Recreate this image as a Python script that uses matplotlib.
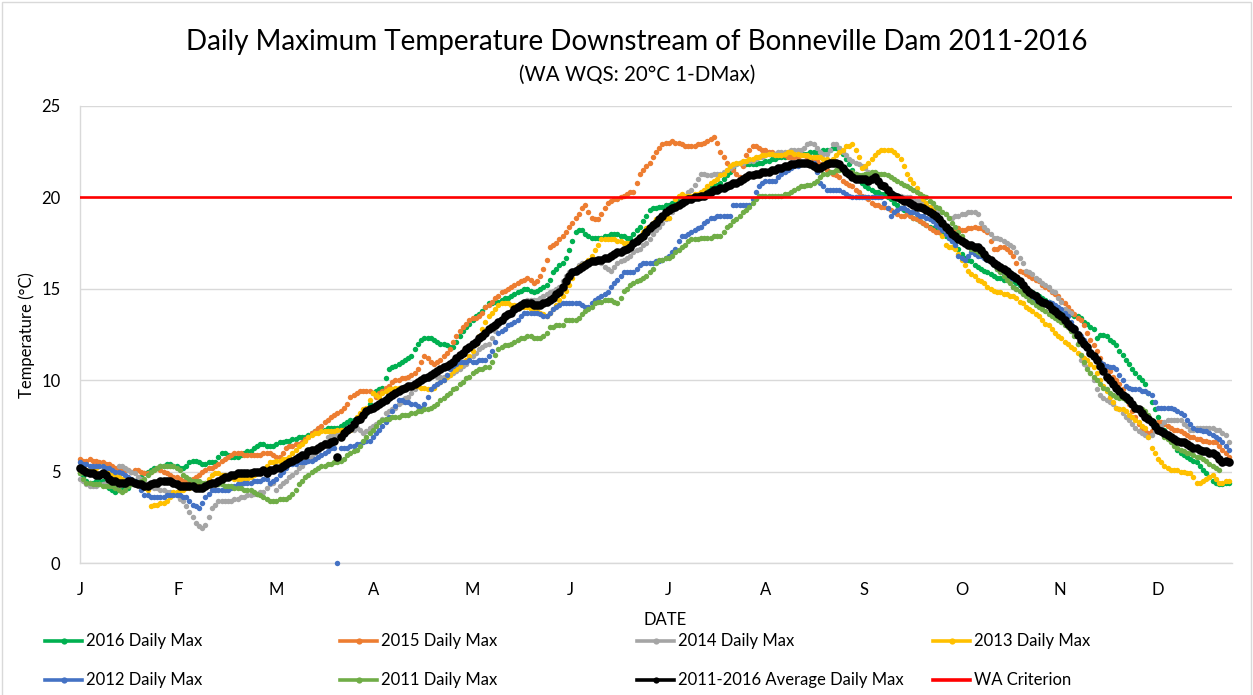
import numpy as np
import matplotlib
matplotlib.use("Agg")
import matplotlib.pyplot as plt
from matplotlib.lines import Line2D
from matplotlib.patches import Rectangle

# ---------------- data (daily maxima, deg C, day index from 1 Jan) ----------------
months = ["J", "F", "M", "A", "M", "J", "J", "A", "S", "O", "N", "D"]

t2016 = [
    4.9, 4.7, 4.5, 4.4, 4.4, 4.5, 4.5, 4.5, 4.3, 4.1, 4.0, 3.9, 4.0, 4.0, 4.1, 4.1, 4.3, 4.5, 4.6, 4.7, 4.9, 5.0, 5.1, 5.2, 5.2, 5.3, 5.3, 5.4, 5.4, 5.3,
    5.3, 5.2, 5.2, 5.3, 5.5, 5.6, 5.6, 5.5, 5.4, 5.4, 5.5, 5.5, 5.5, 5.8, 6.0, 6.0, 5.9, 5.8, 5.8, 5.8, 5.9, 6.0, 6.1, 6.1, 6.3, 6.4, 6.5, 6.5, 6.4, 6.4,
    6.4, 6.5, 6.6, 6.6, 6.7, 6.7, 6.8, 6.8, 6.9, 6.9, 6.9, 7.0, 7.1, 7.2, 7.3, 7.3, 7.3, 7.4, 7.4, 7.4, 7.4, 7.5, 7.6, 7.7, 7.8, 7.8, 7.9, 8.0, 8.1, 8.2,
    8.7, 9.3, 9.4, 9.5, 9.6, 10.1, 10.6, 10.7, 10.8, 10.9, 11.0, 11.1, 11.2, 11.3, 11.7, 12.0, 12.2, 12.3, 12.3, 12.3, 12.2, 12.1, 12.0, 12.0, 11.9, 11.8, 11.8, 12.1, 12.4, 12.7,
    12.9, 13.1, 13.3, 13.5, 13.6, 13.8, 14.0, 14.2, 14.2, 14.3, 14.3, 14.4, 14.5, 14.5, 14.6, 14.7, 14.8, 14.9, 15.0, 15.0, 14.9, 14.8, 14.9, 15.0, 15.1, 15.2, 15.5, 15.9, 16.1, 16.3,
    16.4, 16.7, 17.1, 17.6, 18.1, 18.2, 18.2, 18.0, 17.9, 17.8, 17.8, 17.8, 17.8, 17.9, 17.9, 18.0, 18.0, 18.0, 17.9, 17.9, 17.8, 17.8, 18.0, 18.2, 18.4, 18.7, 19.0, 19.3, 19.4, 19.4,
    19.5, 19.5, 19.6, 19.6, 19.7, 19.7, 19.8, 19.8, 19.9, 19.9, 20.0, 20.0, 20.1, 20.2, 20.3, 20.4, 20.5, 20.6, 20.7, 20.8, 21.0, 21.2, 21.4, 21.6, 21.8, 21.9, 21.9, 21.8, 21.8, 21.8,
    21.8, 21.9, 21.9, 22.0, 22.0, 22.1, 22.1, 22.2, 22.2, 22.2, 22.3, 22.3, 22.3, 22.4, 22.4, 22.4, 22.4, 22.5, 22.5, 22.5, 22.5, 22.6, 22.6, 22.6, 22.7, 22.7, 22.7, 22.4, 22.1, 21.8,
    21.5, 21.3, 21.1, 20.8, 20.6, 20.5, 20.4, 20.3, 20.3, 20.2, 20.2, 20.0, 19.9, 19.7, 19.6, 19.4, 19.3, 19.2, 19.1, 18.9, 18.8, 18.7, 18.6, 18.5, 18.4, 18.3, 18.2, 18.1, 18.0, 17.9,
    17.8, 17.6, 17.4, 17.2, 16.9, 16.7, 16.6, 16.5, 16.3, 16.2, 16.1, 16.0, 15.9, 15.8, 15.7, 15.6, 15.6, 15.5, 15.5, 15.4, 15.4, 15.3, 15.2, 15.1, 15.0, 14.9, 14.8, 14.7, 14.6, 14.5,
    14.4, 14.3, 14.1, 14.0, 13.8, 13.7, 13.7, 13.6, 13.6, 13.5, 13.5, 13.4, 13.2, 13.1, 12.9, 12.8, 12.3, 12.5, 12.5, 12.4, 12.2, 12.1, 11.9, 11.6, 11.4, 11.1, 10.9, 10.6, 10.4, 10.2,
    10.0, 9.8, 9.3, 8.8, 8.4, 8.0, 7.6, 7.3, 7.0, 6.7, 6.5, 6.2, 6.0, 5.9, 5.8, 5.7, 5.6, 5.5, 5.3, 5.1, 4.9, 4.7, 4.5, 4.4, 4.3, 4.3, 4.4, 4.4,
]

t2015 = [
    5.7, 5.6, 5.6, 5.7, 5.6, 5.6, 5.5, 5.5, 5.4, 5.4, 5.3, 5.2, 5.1, 5.1, 5.1, 5.1, 5.0, 5.1, 5.1, 5.0, 4.9, 4.9, 5.0, 5.1, 5.2, 5.1, 5.0, 4.9, 4.8, 4.7,
    4.7, 4.6, 4.5, 4.5, 4.5, 4.6, 4.7, 4.8, 5.0, 5.1, 5.2, 5.2, 5.3, 5.4, 5.6, 5.7, 5.8, 5.9, 6.0, 6.0, 6.0, 5.9, 5.9, 5.9, 5.9, 5.9, 5.9, 6.0, 6.0, 6.0,
    5.9, 5.8, 5.8, 6.0, 6.3, 6.4, 6.4, 6.5, 6.5, 6.6, 6.8, 6.9, 7.1, 7.2, 7.4, 7.5, 7.7, 7.8, 8.0, 8.1, 8.2, 8.3, 8.5, 8.7, 9.1, 9.2, 9.3, 9.4, 9.4, 9.4,
    9.4, 9.3, 9.1, 9.3, 9.4, 9.6, 9.7, 9.9, 10.0, 10.0, 10.1, 10.1, 10.2, 10.3, 10.4, 10.6, 11.0, 11.3, 11.2, 11.0, 10.9, 11.0, 11.1, 11.3, 11.5, 11.7, 12.1, 12.4, 12.7, 12.9,
    13.1, 13.3, 13.4, 13.4, 13.5, 13.7, 14.0, 14.1, 14.3, 14.5, 14.6, 14.8, 14.9, 15.0, 15.1, 15.2, 15.3, 15.4, 15.5, 15.6, 15.5, 15.3, 15.4, 15.7, 16.1, 16.6, 17.3, 17.4, 17.5, 17.7,
    17.9, 18.1, 18.4, 18.6, 18.9, 19.1, 19.4, 19.6, 19.2, 18.9, 18.8, 18.8, 19.1, 19.4, 19.7, 19.8, 19.9, 19.9, 20.0, 20.1, 20.2, 20.3, 20.3, 20.8, 21.3, 21.5, 21.7, 21.9, 22.2, 22.5,
    22.7, 22.9, 23.0, 23.0, 23.1, 23.0, 23.0, 22.9, 22.8, 22.8, 22.8, 22.8, 22.9, 22.9, 23.0, 23.1, 23.2, 23.3, 23.0, 22.5, 22.2, 21.9, 21.7, 21.5, 21.3, 21.1, 21.7, 22.3, 22.6, 22.8,
    22.8, 22.7, 22.6, 22.6, 22.5, 22.5, 22.4, 22.4, 22.3, 22.3, 22.2, 22.2, 22.2, 22.2, 22.3, 22.3, 22.2, 22.2, 22.1, 22.0, 21.8, 21.7, 21.5, 21.4, 21.3, 21.2, 21.1, 20.9, 20.8, 20.7,
    20.6, 20.4, 20.3, 20.1, 20.0, 19.9, 19.7, 19.6, 19.6, 19.5, 19.5, 19.4, 19.3, 19.2, 19.1, 19.0, 19.0, 19.1, 19.0, 18.9, 18.8, 18.7, 18.6, 18.5, 18.3, 18.2, 18.1, 18.1, 18.2, 18.2,
    18.2, 18.2, 18.2, 18.3, 18.2, 18.2, 18.3, 18.3, 18.4, 18.3, 18.3, 18.2, 18.1, 17.6, 17.2, 17.2, 17.3, 17.3, 17.2, 17.0, 16.8, 16.4, 16.0, 15.9, 15.8, 15.7, 15.6, 15.5, 15.4, 15.2,
    15.1, 15.0, 14.8, 14.7, 14.6, 14.4, 14.2, 14.0, 13.8, 13.6, 13.4, 13.3, 13.0, 12.6, 12.2, 11.9, 11.6, 11.2, 10.9, 10.7, 10.5, 10.2, 10.0, 9.8, 9.5, 9.1, 8.7, 8.3, 8.0, 7.6,
    7.4, 7.2, 7.1, 7.2, 7.5, 7.7, 7.7, 7.6, 7.5, 7.4, 7.3, 7.3, 7.2, 7.1, 7.0, 6.9, 6.9, 6.8, 6.8, 6.7, 6.7, 6.6, 6.6, 6.6, 6.4, 6.2, 6.0, 5.8,
]

t2014 = [
    4.6, 4.5, 4.3, 4.2, 4.2, 4.2, 4.3, 4.3, 4.4, 4.5, 4.7, 5.0, 5.3, 5.3, 5.2, 5.1, 5.0, 4.9, 4.7, 4.6, 4.5, 4.3, 4.2, 4.1, 4.1, 4.0, 4.0, 3.9, 3.9, 3.8,
    3.7, 3.5, 3.4, 3.1, 2.8, 2.5, 2.2, 2.0, 1.9, 2.1, 2.5, 3.0, 3.2, 3.4, 3.4, 3.4, 3.4, 3.4, 3.5, 3.5, 3.6, 3.6, 3.7, 3.7, 3.8, 3.8, 3.9, 3.9, 4.1, 4.3,
    4.4, 4.0, 4.2, 4.4, 4.5, 4.7, 4.8, 5.0, 5.2, 5.3, 5.5, 5.7, 5.8, 6.0, 6.1, 6.3, 6.6, 6.9, 7.0, 7.0, 7.0, 7.1, 7.1, 7.2, 7.3, 7.3, 7.4, 7.3, 7.1, 7.2,
    7.4, 7.5, 7.6, 7.7, 7.9, 8.2, 8.3, 8.4, 8.5, 8.7, 8.8, 9.0, 9.1, 9.3, 9.5, 9.7, 10.0, 10.1, 10.2, 10.3, 10.3, 10.2, 10.2, 10.2, 10.3, 10.3, 10.4, 10.5, 10.6, 10.8,
    10.9, 11.1, 11.3, 11.5, 11.7, 11.8, 11.9, 12.0, 12.3, 12.7, 13.0, 13.3, 13.4, 13.6, 13.7, 13.9, 14.0, 14.1, 14.3, 14.4, 14.4, 14.4, 14.4, 14.5, 14.6, 14.7, 14.8, 14.9, 15.0, 15.1,
    15.4, 15.7, 15.9, 16.0, 16.1, 16.3, 16.4, 16.4, 16.5, 16.5, 16.6, 16.6, 16.4, 16.2, 16.1, 16.0, 16.2, 16.4, 16.5, 16.6, 16.7, 16.8, 17.0, 17.1, 17.2, 17.4, 17.5, 17.7, 18.0, 18.2,
    18.4, 18.6, 18.8, 18.9, 19.2, 19.4, 19.7, 19.9, 20.1, 20.3, 20.4, 20.7, 21.0, 21.3, 21.3, 21.2, 21.2, 21.3, 21.3, 21.3, 21.4, 21.5, 21.6, 21.7, 21.8, 21.9, 21.9, 22.0, 22.0, 22.0,
    22.1, 22.2, 22.2, 22.3, 22.4, 22.4, 22.4, 22.5, 22.5, 22.5, 22.5, 22.6, 22.6, 22.6, 22.6, 22.7, 22.9, 23.0, 22.9, 22.7, 22.5, 22.4, 22.4, 22.6, 22.9, 22.9, 22.7, 22.5, 22.3, 22.1,
    22.0, 21.9, 21.8, 21.7, 21.6, 21.4, 21.2, 21.0, 20.8, 20.6, 20.5, 20.3, 20.2, 20.1, 20.1, 20.1, 20.0, 20.0, 20.0, 19.9, 19.8, 19.8, 19.7, 19.6, 19.5, 19.5, 19.4, 19.3, 19.2, 19.1,
    18.9, 18.9, 19.0, 19.0, 19.1, 19.1, 19.2, 19.2, 19.2, 19.1, 18.6, 18.4, 18.2, 18.0, 17.8, 17.8, 17.7, 17.6, 17.5, 17.4, 17.3, 17.0, 16.7, 16.4, 16.0, 15.9, 15.8, 15.6, 15.5, 15.3,
    15.2, 15.1, 14.9, 14.8, 14.5, 14.3, 13.9, 13.8, 13.7, 12.6, 12.0, 11.1, 10.9, 10.7, 10.4, 10.0, 9.5, 9.2, 9.0, 8.9, 8.8, 8.7, 8.5, 8.4, 8.2, 8.0, 7.8, 7.6, 7.4, 7.2,
    7.1, 7.0, 6.9, 7.0, 7.2, 7.4, 7.5, 7.7, 7.8, 7.8, 7.8, 7.8, 7.8, 7.6, 7.5, 7.3, 7.3, 7.4, 7.4, 7.4, 7.4, 7.4, 7.4, 7.3, 7.3, 7.1, 7.0, 6.6,
]

t2013 = [
    5.0, 5.0, 5.1, 5.1, 5.2, 5.2, 5.3, 5.3, 5.2, 5.0, 4.9, 4.8, 4.7, 4.6, 4.5, 4.4, 4.4, 4.3, 4.3, 4.2, 4.1, 4.0, 3.1, 3.2, 3.2, 3.3, 3.3, 3.4, 3.6, 3.9,
    3.9, 4.0, 4.0, 4.1, 4.1, 4.2, 4.3, 4.3, 4.3, 4.4, 4.6, 4.8, 4.9, 4.9, 4.8, 4.8, 4.7, 4.7, 4.6, 4.6, 4.6, 4.6, 4.6, 4.7, 4.8, 4.9, 4.9, 5.1, 5.3, 5.5,
    5.5, 5.6, 5.6, 5.7, 5.7, 5.8, 6.0, 6.2, 6.4, 6.5, 6.7, 6.9, 7.0, 7.1, 7.1, 7.2, 7.2, 7.2, 7.2, 7.2, 7.3, 7.3, 7.3, 7.3, 7.3, 7.6, 8.0, 8.2, 8.4, 8.5,
    8.9, 9.3, 9.2, 9.1, 9.3, 9.4, 9.5, 9.5, 9.6, 9.6, 9.6, 9.6, 9.7, 9.7, 9.7, 9.7, 9.6, 9.6, 9.5, 9.5, 9.6, 9.8, 9.9, 10.0, 10.2, 10.3, 10.5, 10.6, 10.8, 11.0,
    11.1, 11.3, 11.6, 12.0, 12.4, 12.8, 13.2, 13.5, 13.7, 13.9, 14.1, 14.2, 14.2, 14.2, 14.1, 14.1, 14.1, 14.0, 14.0, 14.0, 13.9, 13.9, 13.8, 13.7, 13.6, 13.5, 13.7, 13.9, 14.1, 14.4,
    14.6, 14.9, 15.2, 15.6, 15.9, 16.2, 16.3, 16.4, 16.6, 16.8, 17.1, 17.4, 17.7, 17.7, 17.7, 17.7, 17.7, 17.6, 17.6, 17.5, 17.5, 17.5, 17.5, 17.7, 17.9, 18.1, 18.3, 18.4, 18.6, 18.8,
    18.8, 18.9, 18.9, 18.9, 19.4, 19.9, 20.1, 20.2, 20.1, 20.1, 20.1, 20.2, 20.2, 20.3, 20.4, 20.6, 20.8, 20.9, 21.0, 21.2, 21.3, 21.5, 21.7, 21.8, 21.9, 21.9, 22.0, 22.0, 22.1, 22.1,
    22.2, 22.2, 22.3, 22.3, 22.4, 22.4, 22.3, 22.3, 22.3, 22.4, 22.5, 22.5, 22.4, 22.4, 22.3, 22.3, 22.3, 22.2, 22.2, 22.2, 22.2, 22.1, 22.1, 22.0, 22.1, 22.3, 22.5, 22.6, 22.8, 22.8,
    22.9, 22.6, 22.2, 21.6, 21.7, 21.9, 22.1, 22.3, 22.5, 22.6, 22.6, 22.6, 22.6, 22.5, 22.3, 22.1, 21.7, 21.3, 21.0, 20.8, 20.5, 20.2, 19.9, 19.7, 19.5, 19.3, 18.9, 18.4, 17.9, 17.4,
    17.3, 17.3, 17.2, 16.9, 16.6, 16.3, 16.0, 15.8, 15.7, 15.5, 15.4, 15.3, 15.1, 15.0, 14.9, 14.8, 14.8, 14.7, 14.7, 14.6, 14.6, 14.5, 14.3, 14.2, 14.0, 13.9, 13.8, 13.6, 13.5, 13.3,
    13.1, 13.0, 12.8, 12.6, 12.4, 12.3, 12.1, 12.0, 11.8, 11.7, 11.5, 11.4, 11.2, 11.1, 10.9, 10.7, 10.4, 10.0, 9.7, 9.4, 9.1, 8.8, 8.5, 8.4, 8.4, 8.3, 8.1, 8.0, 7.8, 7.7,
    7.5, 7.4, 6.9, 6.3, 6.0, 5.7, 5.5, 5.3, 5.2, 5.1, 5.1, 5.1, 5.0, 5.0, 4.9, 4.9, 4.7, 4.4, 4.4, 4.5, 4.6, 4.7, 4.8, 4.6, 4.4, 4.4, 4.5, 4.5,
]

t2012 = [
    5.5, 5.4, 5.4, 5.3, 5.3, 5.3, 5.3, 5.3, 5.2, 5.2, 5.1, 5.0, 5.0, 4.9, 4.8, 4.7, 4.6, 4.5, 4.3, 4.0, 3.7, 3.7, 3.6, 3.6, 3.6, 3.6, 3.6, 3.7, 3.7, 3.7,
    3.7, 3.7, 3.6, 3.6, 3.4, 3.2, 3.1, 3.0, 3.3, 3.6, 3.8, 4.0, 4.0, 4.0, 4.0, 4.0, 4.0, 4.1, 4.2, 4.3, 4.3, 4.4, 4.4, 4.4, 4.5, 4.5, 4.5, 4.6, 4.6, 4.4,
    4.5, 4.6, 4.8, 5.0, 5.2, 5.4, 5.4, 5.4, 5.5, 5.5, 5.5, 5.6, 5.6, 5.7, 5.8, 5.9, 6.0, 6.1, 6.3, 6.3, 0.0, 6.3, 6.3, 6.3, 6.4, 6.4, 6.5, 6.5, 6.6, 6.7,
    6.7, 6.9, 7.1, 7.3, 7.5, 7.7, 8.0, 8.3, 8.6, 8.9, 8.9, 8.8, 8.8, 8.7, 8.7, 8.6, 8.5, 8.7, 9.1, 9.5, 9.7, 9.8, 9.9, 10.0, 10.3, 10.6, 10.8, 10.9, 11.0, 11.0,
    11.0, 11.1, 11.0, 11.0, 11.1, 11.1, 11.1, 11.3, 11.6, 12.1, 12.6, 12.7, 12.8, 13.0, 13.1, 13.2, 13.3, 13.5, 13.7, 13.7, 13.7, 13.7, 13.7, 13.6, 13.5, 13.5, 13.7, 13.9, 14.0, 14.1,
    14.2, 14.2, 14.2, 14.2, 14.2, 14.2, 14.1, 14.0, 14.0, 14.2, 14.4, 14.5, 14.6, 14.7, 14.8, 15.1, 15.3, 15.5, 15.7, 15.9, 15.9, 15.9, 15.9, 16.1, 16.3, 16.4, 16.4, 16.4, 16.4, 16.5,
    16.5, 16.6, 16.7, 16.8, 17.0, 17.2, 17.6, 17.9, 17.9, 18.0, 18.1, 18.2, 18.3, 18.4, 18.6, 18.7, 18.9, 18.9, 19.0, 19.0, 19.0, 19.0, 19.0, 19.6, 19.6, 19.6, 19.6, 19.6, 19.6, 19.9,
    20.3, 20.6, 20.8, 20.9, 20.9, 20.9, 20.9, 21.1, 21.3, 21.4, 21.5, 21.6, 21.7, 21.7, 21.8, 21.8, 21.8, 21.9, 21.9, 21.4, 20.8, 20.6, 20.4, 20.4, 20.4, 20.4, 20.4, 20.3, 20.2, 20.1,
    20.0, 20.0, 20.0, 20.0, 20.0, 20.0, 20.0, 20.0, 20.0, 20.0, 19.7, 19.4, 19.0, 19.2, 19.3, 19.4, 19.4, 19.3, 19.2, 19.2, 19.1, 19.0, 19.0, 18.9, 18.8, 18.7, 18.5, 18.4, 18.2, 18.0,
    17.8, 17.6, 17.4, 16.8, 16.7, 16.6, 16.8, 17.0, 16.9, 16.8, 16.8, 16.7, 16.6, 16.5, 16.3, 16.1, 16.0, 15.8, 15.6, 15.4, 15.1, 15.0, 14.9, 14.9, 14.8, 14.7, 14.5, 14.4, 14.4, 14.3,
    14.3, 14.3, 14.2, 14.1, 14.0, 13.9, 13.7, 13.5, 13.2, 12.9, 12.6, 12.4, 12.2, 11.9, 11.6, 11.4, 11.2, 11.0, 10.9, 10.8, 10.7, 10.7, 10.6, 10.3, 10.0, 9.7, 9.6, 9.5, 9.5, 9.5,
    9.4, 9.4, 9.3, 9.2, 8.8, 8.5, 8.5, 8.5, 8.5, 8.5, 8.4, 8.3, 8.2, 8.1, 7.8, 7.6, 7.4, 7.3, 7.3, 7.2, 7.2, 7.1, 7.0, 6.9, 6.8, 6.6, 6.4, 6.2,
]

t2011 = [
    4.9, 4.6, 4.4, 4.4, 4.3, 4.3, 4.3, 4.2, 4.2, 4.2, 4.2, 4.1, 4.0, 3.9, 4.0, 4.2, 4.3, 4.4, 4.4, 4.5, 4.6, 4.8, 5.0, 5.1, 5.2, 5.3, 5.3, 5.3, 5.3, 5.3,
    5.2, 5.1, 4.8, 4.7, 4.6, 4.5, 4.5, 4.5, 4.4, 4.4, 4.4, 4.3, 4.3, 4.3, 4.3, 4.2, 4.2, 4.2, 4.1, 4.1, 4.1, 4.0, 4.0, 4.0, 3.9, 3.8, 3.7, 3.6, 3.5, 3.4,
    3.4, 3.4, 3.5, 3.5, 3.5, 3.6, 3.8, 4.0, 4.3, 4.5, 4.7, 4.8, 5.0, 5.1, 5.2, 5.3, 5.3, 5.4, 5.4, 5.5, 5.5, 5.6, 5.7, 5.9, 6.0, 6.1, 6.2, 6.4, 6.7, 6.9,
    7.1, 7.3, 7.5, 7.7, 7.8, 7.9, 7.9, 8.0, 8.0, 8.0, 8.1, 8.1, 8.1, 8.2, 8.2, 8.3, 8.3, 8.4, 8.4, 8.5, 8.6, 8.7, 8.9, 9.0, 9.2, 9.3, 9.5, 9.6, 9.8, 9.9,
    10.1, 10.2, 10.4, 10.5, 10.6, 10.6, 10.7, 10.7, 11.0, 11.4, 11.7, 11.8, 11.9, 11.9, 12.0, 12.1, 12.2, 12.3, 12.3, 12.4, 12.4, 12.3, 12.3, 12.3, 12.4, 12.6, 12.9, 12.9, 13.0, 13.0,
    13.0, 13.3, 13.3, 13.3, 13.3, 13.4, 13.6, 13.8, 13.9, 14.0, 14.2, 14.3, 14.3, 14.4, 14.4, 14.4, 14.3, 14.2, 14.5, 14.9, 15.0, 15.2, 15.3, 15.4, 15.5, 15.6, 15.7, 15.9, 16.1, 16.4,
    16.6, 16.6, 16.7, 16.7, 16.8, 17.0, 17.1, 17.3, 17.4, 17.6, 17.7, 17.7, 17.7, 17.8, 17.8, 17.8, 17.8, 17.9, 17.9, 17.9, 18.1, 18.4, 18.5, 18.7, 18.8, 19.0, 19.2, 19.3, 19.5, 19.7,
    19.9, 20.1, 20.1, 20.1, 20.1, 20.1, 20.1, 20.1, 20.1, 20.2, 20.2, 20.3, 20.4, 20.5, 20.6, 20.6, 20.7, 20.7, 20.8, 20.9, 21.1, 21.3, 21.3, 21.4, 21.4, 21.5, 21.5, 21.5, 21.5, 21.4,
    21.4, 21.3, 21.2, 21.2, 21.3, 21.3, 21.4, 21.4, 21.3, 21.3, 21.3, 21.2, 21.1, 21.0, 20.9, 20.8, 20.7, 20.6, 20.5, 20.4, 20.3, 20.2, 20.1, 20.0, 19.8, 19.7, 19.5, 19.4, 19.2, 19.1,
    18.9, 18.6, 18.4, 18.1, 17.9, 17.6, 17.4, 17.2, 17.1, 17.0, 16.9, 16.8, 16.7, 16.5, 16.3, 16.1, 15.9, 15.7, 15.5, 15.3, 15.1, 15.0, 14.9, 14.7, 14.6, 14.4, 14.3, 14.1, 14.0, 13.9,
    13.8, 13.6, 13.5, 13.4, 13.3, 13.2, 13.0, 12.9, 12.7, 12.4, 12.0, 11.4, 11.0, 10.6, 10.4, 10.2, 10.0, 9.8, 9.6, 9.5, 9.3, 9.2, 9.1, 9.0, 9.0, 8.9, 8.8, 8.7, 8.6, 8.5,
    8.4, 8.3, 8.1, 7.8, 7.6, 7.4, 7.1, 6.9, 6.8, 6.6, 6.4, 6.3, 6.2, 6.1, 6.0, 6.0, 5.9, 5.8, 5.8, 5.7, 5.6, 5.4, 5.3, 5.2, 5.1,
]

avg_2011_2016 = [
    5.2, 5.1, 5.0, 4.9, 4.9, 4.8, 4.8, 4.9, 4.8, 4.6, 4.5, 4.5, 4.4, 4.4, 4.4, 4.5, 4.5, 4.4, 4.3, 4.3, 4.2, 4.2, 4.3, 4.4, 4.4, 4.5, 4.5, 4.5, 4.5, 4.4,
    4.3, 4.2, 4.2, 4.2, 4.2, 4.2, 4.1, 4.1, 4.1, 4.2, 4.3, 4.4, 4.4, 4.5, 4.6, 4.7, 4.7, 4.8, 4.8, 4.9, 4.9, 4.9, 4.9, 4.9, 5.0, 5.0, 5.0, 5.1, 4.9, 5.1,
    5.1, 5.2, 5.2, 5.3, 5.4, 5.5, 5.6, 5.7, 5.8, 5.9, 5.9, 6.1, 6.2, 6.2, 6.3, 6.4, 6.5, 6.5, 6.6, 6.7, 5.8, 6.9, 7.1, 7.3, 7.4, 7.6, 7.8, 7.9, 8.1, 8.3,
    8.4, 8.5, 8.6, 8.7, 8.8, 8.9, 9.1, 9.2, 9.3, 9.4, 9.5, 9.6, 9.7, 9.7, 9.8, 9.9, 10.0, 10.1, 10.2, 10.3, 10.4, 10.5, 10.6, 10.7, 10.8, 10.9, 11.0, 11.2, 11.4, 11.5,
    11.7, 11.8, 12.0, 12.1, 12.3, 12.4, 12.6, 12.8, 12.9, 13.0, 13.2, 13.3, 13.5, 13.6, 13.7, 13.9, 14.0, 14.1, 14.2, 14.2, 14.2, 14.1, 14.1, 14.1, 14.2, 14.3, 14.4, 14.5, 14.7, 14.8,
    15.1, 15.4, 15.7, 15.9, 16.0, 16.1, 16.2, 16.3, 16.4, 16.5, 16.5, 16.6, 16.6, 16.7, 16.7, 16.8, 16.9, 17.0, 17.0, 17.1, 17.2, 17.3, 17.5, 17.6, 17.8, 17.9, 18.1, 18.3, 18.5, 18.6,
    18.8, 19.0, 19.2, 19.3, 19.4, 19.5, 19.6, 19.7, 19.8, 19.9, 19.9, 20.0, 20.0, 20.1, 20.1, 20.2, 20.3, 20.4, 20.4, 20.5, 20.5, 20.6, 20.7, 20.8, 20.8, 20.9, 21.0, 21.1, 21.2, 21.2,
    21.3, 21.3, 21.4, 21.4, 21.4, 21.5, 21.5, 21.6, 21.6, 21.7, 21.7, 21.8, 21.8, 21.9, 21.9, 21.9, 21.9, 21.8, 21.7, 21.6, 21.6, 21.7, 21.8, 21.9, 21.9, 21.9, 21.8, 21.6, 21.4, 21.3,
    21.1, 21.0, 21.0, 21.0, 21.0, 20.9, 21.0, 21.1, 20.9, 20.7, 20.6, 20.4, 20.2, 20.1, 20.0, 19.9, 19.8, 19.8, 19.7, 19.6, 19.5, 19.5, 19.4, 19.3, 19.2, 19.1, 19.0, 18.8, 18.6, 18.4,
    18.2, 18.0, 17.9, 17.7, 17.6, 17.5, 17.4, 17.4, 17.3, 17.3, 17.1, 16.9, 16.7, 16.6, 16.4, 16.3, 16.2, 16.1, 16.0, 15.8, 15.7, 15.6, 15.4, 15.2, 15.0, 14.8, 14.7, 14.6, 14.4, 14.3,
    14.2, 14.1, 13.9, 13.8, 13.6, 13.5, 13.3, 13.1, 12.9, 12.8, 12.5, 12.2, 12.0, 11.8, 11.5, 11.3, 11.1, 10.8, 10.5, 10.2, 10.0, 9.8, 9.6, 9.4, 9.2, 9.1, 8.9, 8.7, 8.5, 8.4,
    8.2, 8.0, 7.9, 7.7, 7.5, 7.3, 7.2, 7.1, 7.0, 6.9, 6.8, 6.7, 6.6, 6.6, 6.5, 6.4, 6.3, 6.3, 6.2, 6.1, 6.1, 6.0, 6.0, 5.9, 5.7, 5.5, 5.6, 5.5,
]

wa_criterion = 20.0

series_labels = ["2016 Daily Max", "2015 Daily Max", "2014 Daily Max", "2013 Daily Max",
                 "2012 Daily Max", "2011 Daily Max", "2011-2016 Average Daily Max"]
series_values = [t2016, t2015, t2014, t2013, t2012, t2011, avg_2011_2016]
criterion_label = "WA Criterion"

# ---------------- styling ----------------
plt.rcParams['font.family'] = ['Lato', 'DejaVu Sans']
colors = ["#00B050", "#ED7D31", "#A5A5A5", "#FFC000", "#4472C4", "#70AD47", "#000000"]
msizes = [3.9, 3.9, 3.9, 3.9, 3.9, 3.9, 6.2]
red = "#FF0000"
text_col = "#000000"
grid_col = "#D9D9D9"

W, H = 1253, 695
fig = plt.figure(figsize=(W / 100, H / 100), dpi=100)
fig.patch.set_facecolor("white")

ax_l, ax_r, ax_t, ax_b = 80, 1232, 106, 563
ax = fig.add_axes([ax_l / W, 1 - ax_b / H, (ax_r - ax_l) / W, (ax_b - ax_t) / H])

for vals, col, ms, lab in zip(series_values, colors, msizes, series_labels):
    ax.plot(np.arange(len(vals)), vals, linestyle="none", marker="o", ms=ms,
            color=col, mec=col, mew=0, label=lab, clip_on=False, zorder=3)
ax.axhline(wa_criterion, color=red, lw=1.9, zorder=4)

ax.set_xlim(0, 358)
ax.set_ylim(0, 25)
ax.set_yticks(np.arange(0, 26, 5))
ax.set_xticks(np.arange(len(months)) * 30.45)
ax.set_xticklabels(months)
ax.tick_params(axis="both", length=0, labelsize=12, colors=text_col)
ax.tick_params(axis="x", pad=14)
ax.tick_params(axis="y", pad=14)
ax.grid(axis="y", color=grid_col, lw=1.0)
ax.grid(axis="x", visible=False)
ax.set_axisbelow(True)
for s in ["top", "right"]:
    ax.spines[s].set_visible(False)
for s in ["left", "bottom"]:
    ax.spines[s].set_color(grid_col)
    ax.spines[s].set_linewidth(1.0)

# titles and axis titles
fig.text(637 / W, 1 - 42 / H, "Daily Maximum Temperature Downstream of Bonneville Dam 2011-2016",
         ha="center", va="center", fontsize=20, color=text_col)
fig.text(637 / W, 1 - 75 / H, "(WA WQS: 20°C 1-DMax)", ha="center", va="center",
         fontsize=14.8, color=text_col)
fig.text(27 / W, 1 - 335 / H, "Temperature (°C)", rotation=90, ha="center", va="center",
         fontsize=12, color=text_col)
fig.text(665 / W, 1 - 620 / H, "DATE", ha="center", va="center", fontsize=12, color=text_col)

# legend (Excel-style, fixed column grid)
leg_labels = series_labels + [criterion_label]
leg_colors = colors + [red]
col_x = [45, 340, 637, 933]
row_y = [641, 680]
for i, (lab, col) in enumerate(zip(leg_labels, leg_colors)):
    r, c = divmod(i, 4)
    x0, y0 = col_x[c], row_y[r]
    fig.add_artist(Line2D([x0 / W, (x0 + 37) / W], [1 - y0 / H, 1 - y0 / H], color=col, lw=2.6,
                          transform=fig.transFigure))
    if lab != criterion_label:
        fig.add_artist(Line2D([(x0 + 18.5) / W], [1 - y0 / H], color=col, marker="o", ms=4.5,
                              mew=0, transform=fig.transFigure))
    fig.text((x0 + 41) / W, 1 - y0 / H, lab, ha="left", va="center", fontsize=12, color=text_col)

# chart-area border
fig.add_artist(Rectangle((2 / W, -0.01), (W - 4) / W, 1.0 - 2 / H + 0.01, fill=False,
                         edgecolor="#D9D9D9", lw=1.0, transform=fig.transFigure))

fig.savefig("out.png", dpi=100)
